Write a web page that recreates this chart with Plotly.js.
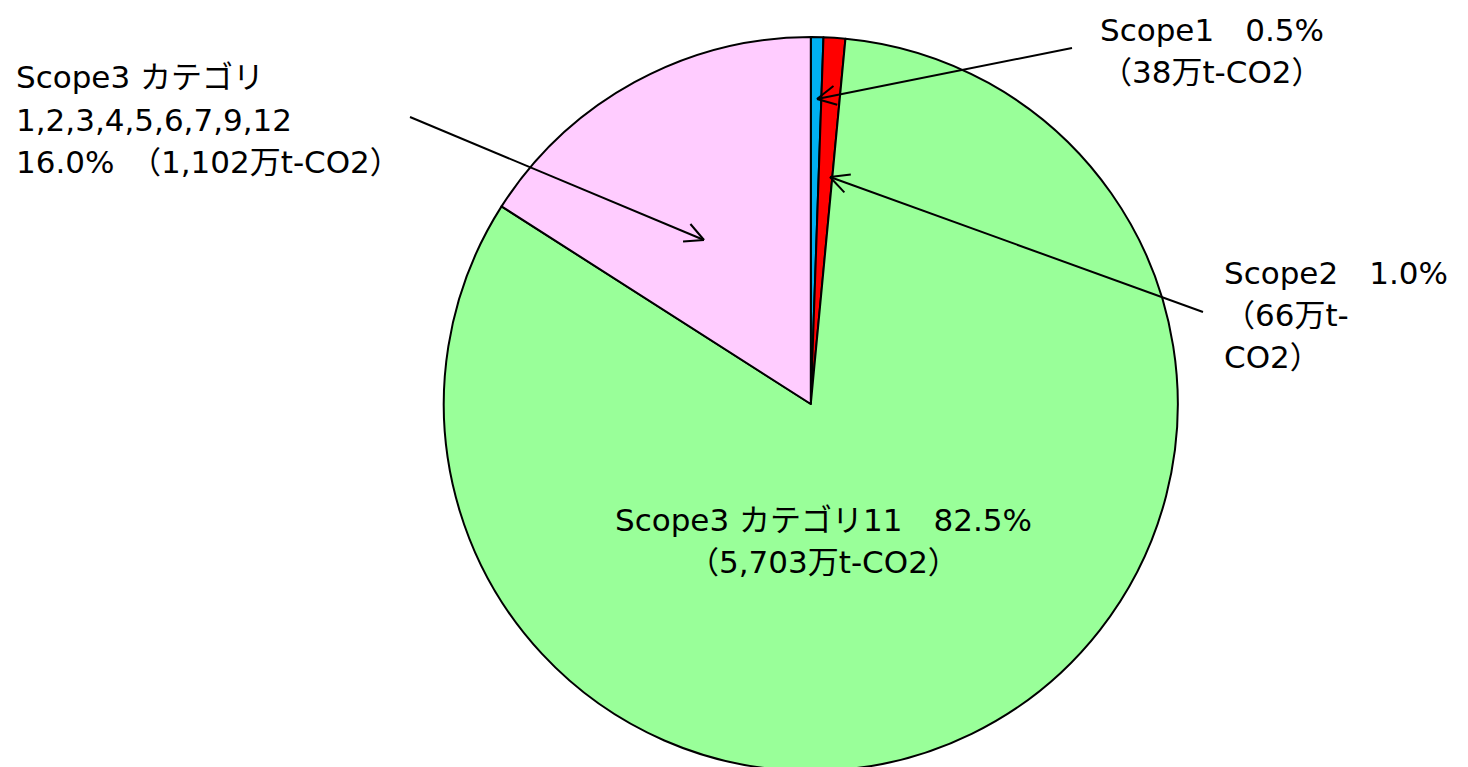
<!DOCTYPE html>
<html>
<head>
<meta charset="utf-8">
<script src="https://cdn.plot.ly/plotly-3.0.1.min.js"></script>
<style>
  html, body { margin: 0; padding: 0; overflow: hidden; background: #fff; }
  #chart { width: 1468px; height: 771px; }
</style>
</head>
<body>
<div id="chart"></div>
<script>
// ---- data ----
const categories = ['Scope1', 'Scope2', 'Scope3 カテゴリ11', 'Scope3 カテゴリ 1,2,3,4,5,6,7,9,12'];
const emissions = [38, 66, 5703, 1102];          // 万t-CO2
const percents = [0.5, 1.0, 82.5, 16.0];           // %
const sliceColors = ['#00B0F0', '#FF0000', '#99FF99', '#FFCCFF'];

// ---- layout helpers ----
const W = 1468, H = 771;
const px = x => x / W;
const py = y => 1 - y / H;
const FONT = { family: '"DejaVu Sans", "Noto Sans CJK JP", sans-serif', size: 31, color: '#000000' };
const fmt = v => v.toLocaleString('en-US');
const pct = p => p.toFixed(1) + '%';
const amt = v => '（' + fmt(v) + '万t-CO2）';

const labelLines = [
  [categories[0] + '　' + pct(percents[0]), amt(emissions[0])],
  [categories[1] + '　' + pct(percents[1]), '（' + fmt(emissions[1]) + '万t-', 'CO2）'],
  [categories[2] + '　' + pct(percents[2]), amt(emissions[2])],
  ['Scope3 カテゴリ', '1,2,3,4,5,6,7,9,12', pct(percents[3]) + '　' + amt(emissions[3])]
];

function label(lines, x, yTop, xanchor, spacing) {
  return lines.map((t, i) => ({
    text: t, xref: 'paper', yref: 'paper', x: px(x), y: py(yTop + i * spacing),
    xanchor: xanchor, yanchor: 'top', align: xanchor === 'center' ? 'center' : 'left',
    showarrow: false, font: FONT
  }));
}

function arrowShapes(x0, y0, x1, y1) {
  // line from tail (x0,y0) to tip (x1,y1) plus open chevron head
  const L = 21, a = 27 * Math.PI / 180;
  const back = Math.atan2(y0 - y1, x0 - x1);
  const line = (ax, ay, bx, by) => ({ type: 'line', xref: 'paper', yref: 'paper',
      x0: px(ax), y0: py(ay), x1: px(bx), y1: py(by), line: { color: '#000', width: 2 } });
  return [
    line(x0, y0, x1, y1),
    line(x1, y1, x1 + L * Math.cos(back + a), y1 + L * Math.sin(back + a)),
    line(x1, y1, x1 + L * Math.cos(back - a), y1 + L * Math.sin(back - a))
  ];
}

const trace = {
  type: 'pie',
  labels: categories,
  values: emissions,
  sort: false,
  direction: 'clockwise',
  rotation: 0,
  textinfo: 'none',
  hoverinfo: 'none',
  marker: { colors: sliceColors, line: { color: '#000000', width: 2 } },
  domain: { x: [px(810.8 - 367), px(810.8 + 367)], y: [0, 734 / H] }
};

const layout = {
  width: W, height: H,
  margin: { l: 0, r: 0, t: 0, b: 0 },
  paper_bgcolor: '#ffffff',
  showlegend: false,
  annotations: [].concat(
    label(labelLines[0], 1212, 10, 'center', 42),
    label(labelLines[1], 1222, 253, 'left', 42),
    label(labelLines[3], 14, 57, 'left', 42.5),
    label(labelLines[2], 823, 500, 'center', 42)
  ),
  shapes: [].concat(
    arrowShapes(1072, 48, 817, 99),
    arrowShapes(1203, 312, 830, 177),
    arrowShapes(410, 117, 704, 240)
  )
};

Plotly.newPlot('chart', [trace], layout, { displayModeBar: false, staticPlot: true });
</script>
</body>
</html>
